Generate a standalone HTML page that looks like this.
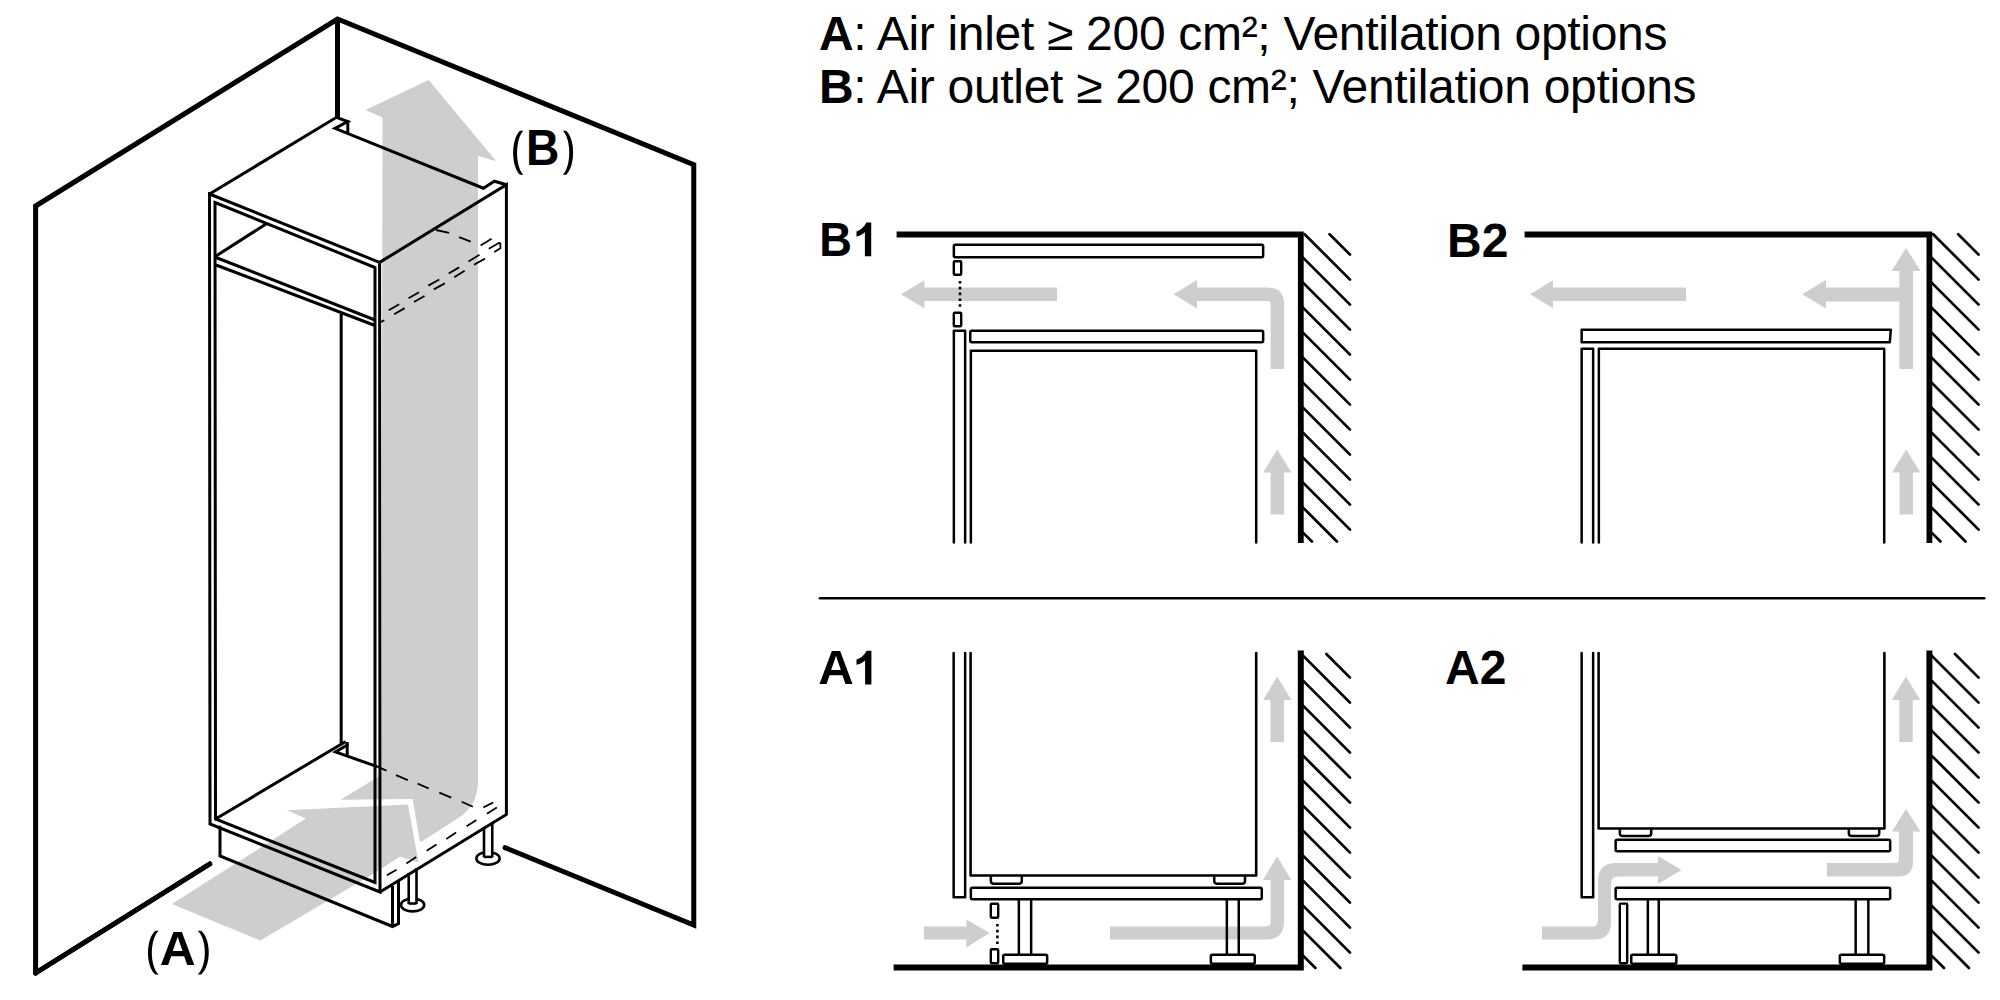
<!DOCTYPE html>
<html><head><meta charset="utf-8"><style>
html,body{margin:0;padding:0;background:#fff;width:2000px;height:1000px;overflow:hidden}
svg{display:block}
text{fill:#000}
</style></head><body>
<svg width="2000" height="1000" viewBox="0 0 2000 1000">
<path d="M428.75,80 L496,161 L478,156 L478,780 C478,798 472,809 458,818.2 L421,842 L340.8,799.4 L381.4,775 L382.5,117.5 L365.5,110 Z" fill="#cecece"/>
<polyline points="340.8,805.3 408,804.5 418.5,866" fill="none" stroke="#fff" stroke-width="11" stroke-linejoin="miter"/>
<polygon points="171.90,904.00 306.00,818.60 286.80,810.20 408.00,804.50 418.50,862.40 400.00,856.40 374.30,873.30 260.30,940.50" fill="#cecece"/>
<polygon points="901.00,294.30 924.40,280.30 924.40,287.60 1057.00,287.60 1057.00,301.00 924.40,301.00 924.40,308.30" fill="#cecece"/>
<path d="M1173.6,294.3 L1197,280 L1197,287.6 L1268,287.6 Q1284,287.6 1284,303.6 L1284,369 L1270.6,369 L1270.6,304 Q1270.6,301 1267.6,301 L1197,301 L1197,308.6 Z" fill="#cecece"/>
<polygon points="1277.30,449.50 1291.50,472.50 1284.00,472.50 1284.00,514.50 1270.60,514.50 1270.60,472.50 1263.10,472.50" fill="#cecece"/>
<polygon points="1530.00,294.30 1553.00,280.30 1553.00,287.60 1686.00,287.60 1686.00,301.00 1553.00,301.00 1553.00,308.30" fill="#cecece"/>
<polygon points="1906.00,248.00 1920.70,271.00 1913.00,271.00 1913.00,369.00 1899.40,369.00 1899.40,301.60 1826.00,301.60 1826.00,308.60 1802.00,294.30 1826.00,280.00 1826.00,287.60 1899.40,287.60 1899.40,271.00 1891.60,271.00" fill="#cecece"/>
<polygon points="1906.20,449.50 1920.40,472.50 1912.90,472.50 1912.90,514.50 1899.50,514.50 1899.50,472.50 1892.00,472.50" fill="#cecece"/>
<polygon points="1277.20,676.60 1291.40,700.00 1283.90,700.00 1283.90,742.00 1270.50,742.00 1270.50,700.00 1263.00,700.00" fill="#cecece"/>
<polygon points="924.00,926.40 966.40,926.40 966.40,919.40 989.60,933.00 966.40,947.60 966.40,939.60 924.00,939.60" fill="#cecece"/>
<path d="M1110,926.4 L1266,926.4 Q1270.6,926.4 1270.6,921.8 L1270.6,880 L1263,880 L1277.2,856.4 L1291.4,880 L1284,880 L1284,921.6 Q1284,939.6 1266,939.6 L1110,939.6 Z" fill="#cecece"/>
<polygon points="1906.00,676.60 1920.20,700.00 1912.70,700.00 1912.70,742.00 1899.30,742.00 1899.30,700.00 1891.80,700.00" fill="#cecece"/>
<path d="M1542,926.4 L1592,926.4 Q1598,926.4 1598,920.4 L1598,881 Q1598,863 1616,863 L1658,863 L1658,856 L1681.6,870 L1658,884 L1658,876.4 L1618,876.4 Q1611,876.4 1611,883.4 L1611,922.6 Q1611,939.6 1594,939.6 L1542,939.6 Z" fill="#cecece"/>
<path d="M1827,863 L1895,863 Q1899,863 1899,859 L1899,831.6 L1892,831.6 L1906,809 L1920.4,831.6 L1913,831.6 L1913,861.4 Q1913,876.4 1898,876.4 L1827,876.4 Z" fill="#cecece"/>
<polyline points="35.60,973.00 35.60,206.00 337.50,19.00 693.75,164.60 693.75,925.00 505.00,847.60" fill="none" stroke="#000" stroke-width="5" stroke-linejoin="miter" stroke-linecap="round" />
<line x1="35.60" y1="973.00" x2="209.70" y2="864.00" stroke="#000" stroke-width="5" stroke-linecap="round" />
<polyline points="209.70,864.00 35.60,973.00" fill="none" stroke="#000" stroke-width="5" stroke-linejoin="round" stroke-linecap="round" />
<line x1="337.50" y1="19.00" x2="337.50" y2="117.00" stroke="#000" stroke-width="5" stroke-linecap="butt" />
<polygon points="209.50,194.00 379.60,262.40 380.00,892.00 210.00,824.00 209.50,194.00" fill="none" stroke="#000" stroke-width="3" stroke-linejoin="miter" stroke-linecap="round" />
<polygon points="215.00,202.50 375.00,267.50 375.00,882.50 215.50,819.00" fill="none" stroke="#000" stroke-width="3" stroke-linejoin="miter" stroke-linecap="round" />
<polyline points="379.60,262.40 506.40,184.80 506.40,814.50 380.00,892.00" fill="none" stroke="#000" stroke-width="3" stroke-linejoin="miter" stroke-linecap="round" />
<polyline points="209.50,194.00 336.50,117.30 347.80,121.50 335.00,128.40 483.40,188.20 494.40,181.20 506.40,184.80" fill="none" stroke="#000" stroke-width="3" stroke-linejoin="miter" stroke-linecap="round" />
<line x1="347.80" y1="121.50" x2="347.80" y2="133.40" stroke="#000" stroke-width="3" stroke-linecap="butt" />
<line x1="216.00" y1="257.50" x2="375.00" y2="320.00" stroke="#000" stroke-width="3" stroke-linecap="butt" />
<line x1="216.00" y1="265.00" x2="375.00" y2="325.50" stroke="#000" stroke-width="3" stroke-linecap="butt" />
<line x1="216.00" y1="256.00" x2="266.00" y2="224.00" stroke="#000" stroke-width="3" stroke-linecap="butt" />
<line x1="341.20" y1="314.00" x2="341.20" y2="744.00" stroke="#000" stroke-width="3" stroke-linecap="butt" />
<polyline points="215.50,819.00 344.50,742.20" fill="none" stroke="#000" stroke-width="3" stroke-linejoin="round" stroke-linecap="round" />
<line x1="347.20" y1="742.00" x2="347.20" y2="755.00" stroke="#000" stroke-width="3" stroke-linecap="butt" />
<polyline points="347.20,745.00 335.50,752.00 376.00,766.20" fill="none" stroke="#000" stroke-width="3" stroke-linejoin="miter" stroke-linecap="round" />
<polyline points="220.00,827.00 220.00,856.00 392.50,926.50 398.50,923.50 398.50,882.00" fill="none" stroke="#000" stroke-width="3" stroke-linejoin="miter" stroke-linecap="round" />
<line x1="392.50" y1="886.00" x2="392.50" y2="926.50" stroke="#000" stroke-width="3" stroke-linecap="butt" />
<ellipse cx="412.6" cy="905" rx="11.6" ry="6.4" fill="#fff" stroke="#000" stroke-width="2.6"/>
<rect x="408.7" y="897" width="7.800000000000011" height="7" fill="#fff"/>
<line x1="408.70" y1="872.96" x2="408.70" y2="904.00" stroke="#000" stroke-width="2.6" stroke-linecap="butt" />
<line x1="416.50" y1="868.20" x2="416.50" y2="904.00" stroke="#000" stroke-width="2.6" stroke-linecap="butt" />
<line x1="408.70" y1="903.50" x2="416.50" y2="903.50" stroke="#000" stroke-width="2.6" stroke-linecap="butt" />
<ellipse cx="488" cy="858.4" rx="11.6" ry="6.4" fill="#fff" stroke="#000" stroke-width="2.6"/>
<rect x="484" y="850.4" width="8.25" height="7" fill="#fff"/>
<line x1="484.00" y1="826.96" x2="484.00" y2="857.40" stroke="#000" stroke-width="2.6" stroke-linecap="butt" />
<line x1="492.25" y1="821.92" x2="492.25" y2="857.40" stroke="#000" stroke-width="2.6" stroke-linecap="butt" />
<line x1="484.00" y1="856.90" x2="492.25" y2="856.90" stroke="#000" stroke-width="2.6" stroke-linecap="butt" />
<polyline points="436.00,230.00 449.20,232.90" fill="none" stroke="#000" stroke-width="1.8" stroke-linejoin="miter" stroke-linecap="butt" />
<polyline points="459.10,237.15 470.70,241.55" fill="none" stroke="#000" stroke-width="1.8" stroke-linejoin="miter" stroke-linecap="butt" />
<polyline points="480.60,245.40 491.60,238.80" fill="none" stroke="#000" stroke-width="1.8" stroke-linejoin="miter" stroke-linecap="butt" />
<polyline points="468.50,261.40 479.50,254.80" fill="none" stroke="#000" stroke-width="1.8" stroke-linejoin="miter" stroke-linecap="butt" />
<polyline points="448.70,273.50 459.10,267.40" fill="none" stroke="#000" stroke-width="1.8" stroke-linejoin="miter" stroke-linecap="butt" />
<polyline points="428.30,285.60 439.30,279.50" fill="none" stroke="#000" stroke-width="1.8" stroke-linejoin="miter" stroke-linecap="butt" />
<polyline points="408.50,298.20 419.00,292.20" fill="none" stroke="#000" stroke-width="1.8" stroke-linejoin="miter" stroke-linecap="butt" />
<polyline points="388.70,310.30 399.20,304.30" fill="none" stroke="#000" stroke-width="1.8" stroke-linejoin="miter" stroke-linecap="butt" />
<polyline points="488.80,248.70 499.30,242.70 500.40,243.40 500.40,248.20 494.30,252.00" fill="none" stroke="#000" stroke-width="1.8" stroke-linejoin="miter" stroke-linecap="butt" />
<polyline points="474.00,264.70 485.00,258.60" fill="none" stroke="#000" stroke-width="1.8" stroke-linejoin="miter" stroke-linecap="butt" />
<polyline points="454.20,277.30 464.60,270.70" fill="none" stroke="#000" stroke-width="1.8" stroke-linejoin="miter" stroke-linecap="butt" />
<polyline points="433.80,289.40 444.80,283.40" fill="none" stroke="#000" stroke-width="1.8" stroke-linejoin="miter" stroke-linecap="butt" />
<polyline points="414.00,302.00 424.50,296.00" fill="none" stroke="#000" stroke-width="1.8" stroke-linejoin="miter" stroke-linecap="butt" />
<polyline points="394.20,314.20 404.70,308.10" fill="none" stroke="#000" stroke-width="1.8" stroke-linejoin="miter" stroke-linecap="butt" />
<polyline points="379.90,322.40 384.30,320.20" fill="none" stroke="#000" stroke-width="1.8" stroke-linejoin="miter" stroke-linecap="butt" />
<polyline points="376.00,766.20 386.50,770.60" fill="none" stroke="#000" stroke-width="1.8" stroke-linejoin="miter" stroke-linecap="butt" />
<polyline points="396.00,775.20 407.80,780.10" fill="none" stroke="#000" stroke-width="1.8" stroke-linejoin="miter" stroke-linecap="butt" />
<polyline points="417.60,783.60 428.80,788.50" fill="none" stroke="#000" stroke-width="1.8" stroke-linejoin="miter" stroke-linecap="butt" />
<polyline points="439.30,792.70 451.20,797.60" fill="none" stroke="#000" stroke-width="1.8" stroke-linejoin="miter" stroke-linecap="butt" />
<polyline points="461.70,801.80 472.90,806.70" fill="none" stroke="#000" stroke-width="1.8" stroke-linejoin="miter" stroke-linecap="butt" />
<polyline points="386.80,875.30 396.60,869.70" fill="none" stroke="#000" stroke-width="1.8" stroke-linejoin="miter" stroke-linecap="butt" />
<polyline points="406.40,863.40 416.20,857.10" fill="none" stroke="#000" stroke-width="1.8" stroke-linejoin="miter" stroke-linecap="butt" />
<polyline points="426.70,850.80 436.50,844.50" fill="none" stroke="#000" stroke-width="1.8" stroke-linejoin="miter" stroke-linecap="butt" />
<polyline points="446.30,838.90 456.10,832.60" fill="none" stroke="#000" stroke-width="1.8" stroke-linejoin="miter" stroke-linecap="butt" />
<polyline points="466.60,826.30 476.40,820.00" fill="none" stroke="#000" stroke-width="1.8" stroke-linejoin="miter" stroke-linecap="butt" />
<polyline points="486.90,813.70 496.80,807.40" fill="none" stroke="#000" stroke-width="1.8" stroke-linejoin="miter" stroke-linecap="butt" />
<polyline points="483.40,807.40 493.20,802.50" fill="none" stroke="#000" stroke-width="1.8" stroke-linejoin="miter" stroke-linecap="butt" />
<path d="M520.00,130.80 C510.93,139.60 510.93,166.00 520.00,174.80 L523.40,174.80 C515.00,166.00 515.00,139.60 523.40,130.80 Z" fill="#000"/>
<text transform="translate(525.91,165.00) scale(0.9417,1)" font-size="49.1" font-weight="bold" font-family="Liberation Sans">B</text>
<path d="M566.20,130.80 C575.53,139.60 575.53,166.00 566.20,174.80 L562.80,174.80 C571.47,166.00 571.47,139.60 562.80,130.80 Z" fill="#000"/>
<path d="M155.30,930.70 C145.57,939.48 145.57,965.82 155.30,974.60 L158.70,974.60 C149.63,965.82 149.63,939.48 158.70,930.70 Z" fill="#000"/>
<text transform="translate(159.76,964.90) scale(1.0192,1)" font-size="48.7" font-weight="bold" font-family="Liberation Sans">A</text>
<path d="M201.10,930.70 C211.37,939.48 211.37,965.82 201.10,974.60 L197.70,974.60 C207.30,965.82 207.30,939.48 197.70,930.70 Z" fill="#000"/>
<text x="819" y="50.2" font-size="48" font-family="Liberation Sans" textLength="848.5" lengthAdjust="spacing"><tspan font-weight="bold">A</tspan>: Air inlet ≥ 200 cm²; Ventilation options</text>
<text x="819" y="103.1" font-size="48" font-family="Liberation Sans" textLength="877.6" lengthAdjust="spacing"><tspan font-weight="bold">B</tspan>: Air outlet ≥ 200 cm²; Ventilation options</text>
<line x1="820.00" y1="598.25" x2="1984.25" y2="598.25" stroke="#000" stroke-width="2.6" stroke-linecap="round" />
<polyline points="896.60,234.50 1300.80,234.50 1300.80,543.00" fill="none" stroke="#000" stroke-width="5.8" stroke-linejoin="miter" stroke-linecap="butt" />
<line x1="1329.60" y1="234.20" x2="1350.00" y2="254.60" stroke="#000" stroke-width="2.75" stroke-linecap="round" />
<line x1="1304.60" y1="234.20" x2="1350.00" y2="279.60" stroke="#000" stroke-width="2.75" stroke-linecap="round" />
<line x1="1303.00" y1="257.60" x2="1350.00" y2="304.60" stroke="#000" stroke-width="2.75" stroke-linecap="round" />
<line x1="1303.00" y1="282.60" x2="1350.00" y2="329.60" stroke="#000" stroke-width="2.75" stroke-linecap="round" />
<line x1="1303.00" y1="307.60" x2="1350.00" y2="354.60" stroke="#000" stroke-width="2.75" stroke-linecap="round" />
<line x1="1303.00" y1="332.60" x2="1350.00" y2="379.60" stroke="#000" stroke-width="2.75" stroke-linecap="round" />
<line x1="1303.00" y1="357.60" x2="1350.00" y2="404.60" stroke="#000" stroke-width="2.75" stroke-linecap="round" />
<line x1="1303.00" y1="382.60" x2="1350.00" y2="429.60" stroke="#000" stroke-width="2.75" stroke-linecap="round" />
<line x1="1303.00" y1="407.60" x2="1350.00" y2="454.60" stroke="#000" stroke-width="2.75" stroke-linecap="round" />
<line x1="1303.00" y1="432.60" x2="1350.00" y2="479.60" stroke="#000" stroke-width="2.75" stroke-linecap="round" />
<line x1="1303.00" y1="457.60" x2="1350.00" y2="504.60" stroke="#000" stroke-width="2.75" stroke-linecap="round" />
<line x1="1303.00" y1="482.60" x2="1350.00" y2="529.60" stroke="#000" stroke-width="2.75" stroke-linecap="round" />
<line x1="1303.00" y1="507.60" x2="1336.90" y2="541.50" stroke="#000" stroke-width="2.75" stroke-linecap="round" />
<line x1="1303.00" y1="532.60" x2="1311.90" y2="541.50" stroke="#000" stroke-width="2.75" stroke-linecap="round" />
<text transform="translate(819.27,256.30) scale(0.9274,1)" font-size="48.8" font-weight="bold" font-family="Liberation Sans">B</text>
<path d="M866.40,222.60 L871.20,222.60 L871.20,256.30 L864.90,256.30 L864.90,232.20 C862.30,234.40 859.50,235.80 856.50,236.60 L856.50,231.40 C861.10,230.00 864.30,227.20 866.40,222.60 Z" fill="#000"/>
<rect x="953.85" y="244.85" width="309.30" height="12.50" rx="1.5" fill="none" stroke="#000" stroke-width="2.5"/>
<rect x="953.80" y="261.20" width="7.40" height="13.60" rx="1" fill="none" stroke="#000" stroke-width="2.4"/>
<rect x="953.80" y="312.80" width="7.40" height="13.40" rx="1" fill="none" stroke="#000" stroke-width="2.4"/>
<line x1="960.00" y1="281.00" x2="960.00" y2="309.00" stroke="#000" stroke-width="2.6" stroke-linecap="butt" stroke-dasharray="2.6 3.2"/>
<path d="M953.85,542.5 L953.85,330.85 L965.15,330.85 L965.15,542.5" fill="none" stroke="#000" stroke-width="2.5" stroke-linejoin="round" stroke-linecap="round" />
<rect x="970.25" y="330.85" width="292.90" height="11.50" rx="1.5" fill="none" stroke="#000" stroke-width="2.5"/>
<path d="M970.85,542.5 L970.85,350.85 L1256.2,350.85 L1256.2,542.5" fill="none" stroke="#000" stroke-width="2.5" stroke-linejoin="round" stroke-linecap="round" />
<polyline points="1524.60,234.50 1929.40,234.50 1929.40,543.00" fill="none" stroke="#000" stroke-width="5.8" stroke-linejoin="miter" stroke-linecap="butt" />
<line x1="1958.20" y1="234.20" x2="1978.60" y2="254.60" stroke="#000" stroke-width="2.75" stroke-linecap="round" />
<line x1="1933.20" y1="234.20" x2="1978.60" y2="279.60" stroke="#000" stroke-width="2.75" stroke-linecap="round" />
<line x1="1931.60" y1="257.60" x2="1978.60" y2="304.60" stroke="#000" stroke-width="2.75" stroke-linecap="round" />
<line x1="1931.60" y1="282.60" x2="1978.60" y2="329.60" stroke="#000" stroke-width="2.75" stroke-linecap="round" />
<line x1="1931.60" y1="307.60" x2="1978.60" y2="354.60" stroke="#000" stroke-width="2.75" stroke-linecap="round" />
<line x1="1931.60" y1="332.60" x2="1978.60" y2="379.60" stroke="#000" stroke-width="2.75" stroke-linecap="round" />
<line x1="1931.60" y1="357.60" x2="1978.60" y2="404.60" stroke="#000" stroke-width="2.75" stroke-linecap="round" />
<line x1="1931.60" y1="382.60" x2="1978.60" y2="429.60" stroke="#000" stroke-width="2.75" stroke-linecap="round" />
<line x1="1931.60" y1="407.60" x2="1978.60" y2="454.60" stroke="#000" stroke-width="2.75" stroke-linecap="round" />
<line x1="1931.60" y1="432.60" x2="1978.60" y2="479.60" stroke="#000" stroke-width="2.75" stroke-linecap="round" />
<line x1="1931.60" y1="457.60" x2="1978.60" y2="504.60" stroke="#000" stroke-width="2.75" stroke-linecap="round" />
<line x1="1931.60" y1="482.60" x2="1978.60" y2="529.60" stroke="#000" stroke-width="2.75" stroke-linecap="round" />
<line x1="1931.60" y1="507.60" x2="1965.50" y2="541.50" stroke="#000" stroke-width="2.75" stroke-linecap="round" />
<line x1="1931.60" y1="532.60" x2="1940.50" y2="541.50" stroke="#000" stroke-width="2.75" stroke-linecap="round" />
<text x="1447" y="256.6" font-size="48" font-weight="bold" font-family="Liberation Sans">B2</text>
<path d="M1581.65,329.65 L1890.8,329.65 L1889.8,342.35 L1581.65,342.35 Z" fill="none" stroke="#000" stroke-width="2.5" stroke-linejoin="round" stroke-linecap="round" />
<path d="M1581.65,542.5 L1581.65,348.85 L1593.15,348.85 L1593.15,542.5" fill="none" stroke="#000" stroke-width="2.5" stroke-linejoin="round" stroke-linecap="round" />
<path d="M1598.85,542.5 L1598.85,348.85 L1884.2,348.85 L1884.2,542.5" fill="none" stroke="#000" stroke-width="2.5" stroke-linejoin="round" stroke-linecap="round" />
<polyline points="893.60,967.40 1300.80,967.40 1300.80,650.60" fill="none" stroke="#000" stroke-width="6" stroke-linejoin="miter" stroke-linecap="butt" />
<line x1="1326.40" y1="654.00" x2="1350.00" y2="677.60" stroke="#000" stroke-width="2.75" stroke-linecap="round" />
<line x1="1303.00" y1="655.60" x2="1350.00" y2="702.60" stroke="#000" stroke-width="2.75" stroke-linecap="round" />
<line x1="1303.00" y1="680.60" x2="1350.00" y2="727.60" stroke="#000" stroke-width="2.75" stroke-linecap="round" />
<line x1="1303.00" y1="705.60" x2="1350.00" y2="752.60" stroke="#000" stroke-width="2.75" stroke-linecap="round" />
<line x1="1303.00" y1="730.60" x2="1350.00" y2="777.60" stroke="#000" stroke-width="2.75" stroke-linecap="round" />
<line x1="1303.00" y1="755.60" x2="1350.00" y2="802.60" stroke="#000" stroke-width="2.75" stroke-linecap="round" />
<line x1="1303.00" y1="780.60" x2="1350.00" y2="827.60" stroke="#000" stroke-width="2.75" stroke-linecap="round" />
<line x1="1303.00" y1="805.60" x2="1350.00" y2="852.60" stroke="#000" stroke-width="2.75" stroke-linecap="round" />
<line x1="1303.00" y1="830.60" x2="1350.00" y2="877.60" stroke="#000" stroke-width="2.75" stroke-linecap="round" />
<line x1="1303.00" y1="855.60" x2="1350.00" y2="902.60" stroke="#000" stroke-width="2.75" stroke-linecap="round" />
<line x1="1303.00" y1="880.60" x2="1350.00" y2="927.60" stroke="#000" stroke-width="2.75" stroke-linecap="round" />
<line x1="1303.00" y1="905.60" x2="1350.00" y2="952.60" stroke="#000" stroke-width="2.75" stroke-linecap="round" />
<line x1="1303.00" y1="930.60" x2="1340.40" y2="968.00" stroke="#000" stroke-width="2.75" stroke-linecap="round" />
<line x1="1303.00" y1="955.60" x2="1315.40" y2="968.00" stroke="#000" stroke-width="2.75" stroke-linecap="round" />
<text transform="translate(818.18,684.40) scale(1.0079,1)" font-size="48.8" font-weight="bold" font-family="Liberation Sans">A</text>
<path d="M866.60,650.80 L871.40,650.80 L871.40,684.40 L865.10,684.40 L865.10,660.40 C862.50,662.60 859.50,664.00 856.50,664.80 L856.50,659.60 C861.10,658.20 864.50,655.40 866.60,650.80 Z" fill="#000"/>
<path d="M953.65,653 L953.65,897.15 L965.15,897.15 L965.15,653" fill="none" stroke="#000" stroke-width="2.5" stroke-linejoin="round" stroke-linecap="round" />
<path d="M970.6,653 L970.6,875.5 L1256.2,875.5 L1256.2,653" fill="none" stroke="#000" stroke-width="2.6" stroke-linejoin="round" stroke-linecap="round" />
<path d="M990.85,876.5 L990.85,881 Q990.85,883.8 994,883.8 L1018.8,883.8 Q1021.8,883.8 1021.8,881 L1021.8,876.5" fill="none" stroke="#000" stroke-width="2.5" stroke-linejoin="round" stroke-linecap="round" />
<path d="M1214.25,876.5 L1214.25,881 Q1214.25,883.8 1217.4,883.8 L1242,883.8 Q1245,883.8 1245,881 L1245,876.5" fill="none" stroke="#000" stroke-width="2.5" stroke-linejoin="round" stroke-linecap="round" />
<rect x="970.85" y="887.65" width="290.90" height="11.50" rx="1.5" fill="none" stroke="#000" stroke-width="2.5"/>
<rect x="1003.25" y="954.85" width="43.90" height="8.90" rx="1.5" fill="none" stroke="#000" stroke-width="2.5"/>
<rect x="1210.85" y="954.85" width="43.90" height="8.90" rx="1.5" fill="none" stroke="#000" stroke-width="2.5"/>
<line x1="1018.85" y1="900.00" x2="1018.85" y2="954.00" stroke="#000" stroke-width="2.5" stroke-linecap="butt" />
<line x1="1031.15" y1="900.00" x2="1031.15" y2="954.00" stroke="#000" stroke-width="2.5" stroke-linecap="butt" />
<line x1="1226.85" y1="900.00" x2="1226.85" y2="954.00" stroke="#000" stroke-width="2.5" stroke-linecap="butt" />
<line x1="1238.75" y1="900.00" x2="1238.75" y2="954.00" stroke="#000" stroke-width="2.5" stroke-linecap="butt" />
<rect x="990.80" y="903.80" width="7.40" height="14.00" rx="1" fill="none" stroke="#000" stroke-width="2.4"/>
<rect x="990.80" y="949.20" width="7.40" height="14.00" rx="1" fill="none" stroke="#000" stroke-width="2.4"/>
<line x1="997.40" y1="924.00" x2="997.40" y2="944.00" stroke="#000" stroke-width="2.6" stroke-linecap="butt" stroke-dasharray="2.6 3.2"/>
<polyline points="1522.40,967.40 1929.40,967.40 1929.40,650.60" fill="none" stroke="#000" stroke-width="6" stroke-linejoin="miter" stroke-linecap="butt" />
<line x1="1955.00" y1="654.00" x2="1978.60" y2="677.60" stroke="#000" stroke-width="2.75" stroke-linecap="round" />
<line x1="1931.60" y1="655.60" x2="1978.60" y2="702.60" stroke="#000" stroke-width="2.75" stroke-linecap="round" />
<line x1="1931.60" y1="680.60" x2="1978.60" y2="727.60" stroke="#000" stroke-width="2.75" stroke-linecap="round" />
<line x1="1931.60" y1="705.60" x2="1978.60" y2="752.60" stroke="#000" stroke-width="2.75" stroke-linecap="round" />
<line x1="1931.60" y1="730.60" x2="1978.60" y2="777.60" stroke="#000" stroke-width="2.75" stroke-linecap="round" />
<line x1="1931.60" y1="755.60" x2="1978.60" y2="802.60" stroke="#000" stroke-width="2.75" stroke-linecap="round" />
<line x1="1931.60" y1="780.60" x2="1978.60" y2="827.60" stroke="#000" stroke-width="2.75" stroke-linecap="round" />
<line x1="1931.60" y1="805.60" x2="1978.60" y2="852.60" stroke="#000" stroke-width="2.75" stroke-linecap="round" />
<line x1="1931.60" y1="830.60" x2="1978.60" y2="877.60" stroke="#000" stroke-width="2.75" stroke-linecap="round" />
<line x1="1931.60" y1="855.60" x2="1978.60" y2="902.60" stroke="#000" stroke-width="2.75" stroke-linecap="round" />
<line x1="1931.60" y1="880.60" x2="1978.60" y2="927.60" stroke="#000" stroke-width="2.75" stroke-linecap="round" />
<line x1="1931.60" y1="905.60" x2="1978.60" y2="952.60" stroke="#000" stroke-width="2.75" stroke-linecap="round" />
<line x1="1931.60" y1="930.60" x2="1969.00" y2="968.00" stroke="#000" stroke-width="2.75" stroke-linecap="round" />
<line x1="1931.60" y1="955.60" x2="1944.00" y2="968.00" stroke="#000" stroke-width="2.75" stroke-linecap="round" />
<text x="1445" y="684.4" font-size="48" font-weight="bold" font-family="Liberation Sans">A2</text>
<path d="M1581.65,653 L1581.65,897.15 L1593.15,897.15 L1593.15,653" fill="none" stroke="#000" stroke-width="2.5" stroke-linejoin="round" stroke-linecap="round" />
<path d="M1598.6,653 L1598.6,828.5 L1884.4,828.5 L1884.4,653" fill="none" stroke="#000" stroke-width="2.6" stroke-linejoin="round" stroke-linecap="round" />
<path d="M1619.85,829.5 L1619.85,833.5 Q1619.85,836 1622.8,836 L1648.2,836 Q1651.2,836 1651.2,833.5 L1651.2,829.5" fill="none" stroke="#000" stroke-width="2.5" stroke-linejoin="round" stroke-linecap="round" />
<path d="M1848.85,829.5 L1848.85,833.5 Q1848.85,836 1851.8,836 L1876.2,836 Q1879.2,836 1879.2,833.5 L1879.2,829.5" fill="none" stroke="#000" stroke-width="2.5" stroke-linejoin="round" stroke-linecap="round" />
<rect x="1615.65" y="839.65" width="274.50" height="11.50" rx="1.5" fill="none" stroke="#000" stroke-width="2.5"/>
<rect x="1615.65" y="887.65" width="274.50" height="11.50" rx="1.5" fill="none" stroke="#000" stroke-width="2.5"/>
<rect x="1619.80" y="903.60" width="7.40" height="59.60" rx="1" fill="none" stroke="#000" stroke-width="2.4"/>
<rect x="1631.25" y="954.85" width="45.10" height="8.90" rx="1.5" fill="none" stroke="#000" stroke-width="2.5"/>
<rect x="1839.85" y="954.85" width="44.30" height="8.90" rx="1.5" fill="none" stroke="#000" stroke-width="2.5"/>
<line x1="1647.85" y1="900.00" x2="1647.85" y2="954.00" stroke="#000" stroke-width="2.5" stroke-linecap="butt" />
<line x1="1658.75" y1="900.00" x2="1658.75" y2="954.00" stroke="#000" stroke-width="2.5" stroke-linecap="butt" />
<line x1="1855.65" y1="900.00" x2="1855.65" y2="954.00" stroke="#000" stroke-width="2.5" stroke-linecap="butt" />
<line x1="1868.35" y1="900.00" x2="1868.35" y2="954.00" stroke="#000" stroke-width="2.5" stroke-linecap="butt" />
</svg>
</body></html>
